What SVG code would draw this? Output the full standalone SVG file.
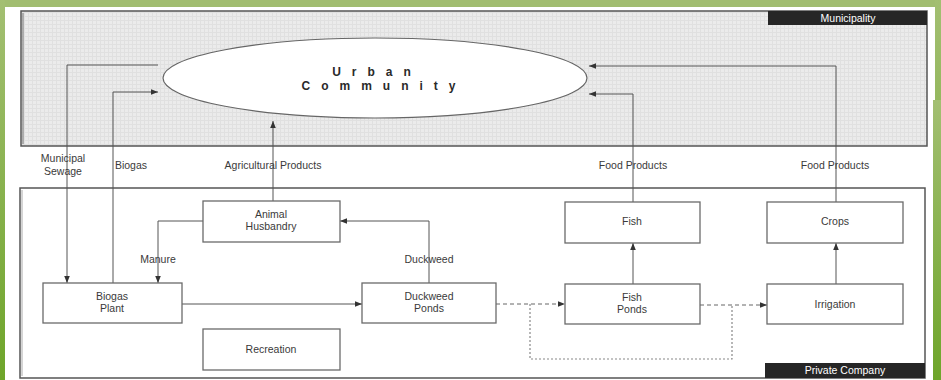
<svg xmlns="http://www.w3.org/2000/svg" width="941" height="380" viewBox="0 0 941 380">
<defs>
<linearGradient id="gl" x1="0" y1="0" x2="0" y2="1"><stop offset="0" stop-color="#a3bf72"/><stop offset="1" stop-color="#6ea52a"/></linearGradient>
<pattern id="hatch" width="4" height="4" patternUnits="userSpaceOnUse"><rect width="4" height="4" fill="#ebebeb"/><path d="M0 0.5H4M0.5 0V4" stroke="#e0e0e0" stroke-width="1"/></pattern>
<marker id="ah" viewBox="0 0 10 10" refX="10" refY="5" markerWidth="9" markerHeight="7" markerUnits="userSpaceOnUse" orient="auto"><path d="M0 1L10 5L0 9z" fill="#333"/></marker>
</defs>
<style>
.box{fill:#fff;stroke:#6a6a6a;stroke-width:1.3}
.t{font-family:"Liberation Sans",Arial,sans-serif;font-size:10.5px;fill:#3a3a3a;text-anchor:middle}
.big{font-family:"Liberation Sans",Arial,sans-serif;font-size:12px;font-weight:bold;fill:#2a2a2a;text-anchor:middle;letter-spacing:11px}
.ln{fill:none;stroke:#555;stroke-width:1}
.dash{fill:none;stroke:#666;stroke-width:1;stroke-dasharray:4 3}
.dot{fill:none;stroke:#888;stroke-width:1.2;stroke-dasharray:2 2}
.lab{font-family:"Liberation Sans",Arial,sans-serif;font-size:10.5px;fill:#fff;text-anchor:middle}
</style>
<rect width="941" height="380" fill="#fff"/>
<rect x="0" y="0" width="941" height="7" fill="#a1bd70"/>
<rect x="0" y="0" width="5" height="380" fill="url(#gl)"/>
<rect x="935" y="0" width="6" height="380" fill="url(#gl)"/>
<rect x="933" y="100" width="8" height="280" fill="url(#gl)"/>

<g id="municipality">
<rect x="21" y="11" width="906" height="135" fill="url(#hatch)" stroke="#555" stroke-width="1.5"/>
<line x1="23" y1="13" x2="23" y2="144" stroke="#999" stroke-width="1.5"/>
<rect x="768" y="11" width="159" height="14" fill="#262626"/>
<text class="lab" x="848" y="22">Municipality</text>
</g>

<g id="private-company">
<rect x="20" y="188" width="905" height="190" fill="#fff" stroke="#555" stroke-width="1.5"/>
<line x1="22" y1="190" x2="22" y2="376" stroke="#aaa" stroke-width="1"/>
<rect x="765" y="363" width="160" height="15" fill="#262626"/>
<text class="lab" x="845" y="374">Private Company</text>
</g>

<g id="urban-community">
<ellipse cx="375" cy="78" rx="212" ry="40" fill="#fff" stroke="#666" stroke-width="1.2"/>
<text class="big" x="377" y="76">Urban</text>
<text class="big" x="384" y="90">Community</text>
</g>

<g id="connectors">
<polyline class="ln" points="158,65 67,65 67,283" marker-end="url(#ah)"/>
<polyline class="ln" points="113,283 113,92 158,92" marker-end="url(#ah)"/>
<polyline class="ln" points="273,201 273,121" marker-end="url(#ah)"/>
<polyline class="ln" points="633,202 633,94 589,94" marker-end="url(#ah)"/>
<polyline class="ln" points="836,202 836,66 589,66" marker-end="url(#ah)"/>
<polyline class="ln" points="203,221 158,221 158,283" marker-end="url(#ah)"/>
<polyline class="ln" points="429,283 429,221 340,221" marker-end="url(#ah)"/>
<polyline class="ln" points="182,304 362,304" marker-end="url(#ah)"/>
<polyline class="dash" points="496,304 565,304" marker-end="url(#ah)"/>
<polyline class="dash" points="700,305 767,305" marker-end="url(#ah)"/>
<polyline class="dot" points="530,304 530,359 732,359 732,305"/>
<polyline class="ln" points="633,284 633,243" stroke-width="1.6" marker-end="url(#ah)"/>
<polyline class="ln" points="836,284 836,243" stroke-width="1.6" marker-end="url(#ah)"/>
</g>

<g id="labels">
<text class="t" x="63" y="162">Municipal</text>
<text class="t" x="63" y="175">Sewage</text>
<text class="t" x="131" y="169">Biogas</text>
<text class="t" x="273" y="169">Agricultural Products</text>
<text class="t" x="633" y="169">Food Products</text>
<text class="t" x="835" y="169">Food Products</text>
<text class="t" x="158" y="263">Manure</text>
<text class="t" x="429" y="263">Duckweed</text>
</g>

<g id="animal-husbandry"><rect class="box" x="203" y="201" width="137" height="41"/><text class="t" x="271" y="218">Animal</text><text class="t" x="271" y="230">Husbandry</text></g>
<g id="biogas-plant"><rect class="box" x="43" y="283" width="139" height="40"/><text class="t" x="112" y="300">Biogas</text><text class="t" x="112" y="312">Plant</text></g>
<g id="duckweed-ponds"><rect class="box" x="362" y="283" width="134" height="40"/><text class="t" x="429" y="300">Duckweed</text><text class="t" x="429" y="312">Ponds</text></g>
<g id="recreation"><rect class="box" x="203" y="329" width="137" height="41"/><text class="t" x="271" y="353">Recreation</text></g>
<g id="fish"><rect class="box" x="565" y="202" width="135" height="41"/><text class="t" x="632" y="225">Fish</text></g>
<g id="crops"><rect class="box" x="767" y="202" width="136" height="41"/><text class="t" x="835" y="225">Crops</text></g>
<g id="fish-ponds"><rect class="box" x="565" y="284" width="135" height="40"/><text class="t" x="632" y="301">Fish</text><text class="t" x="632" y="313">Ponds</text></g>
<g id="irrigation"><rect class="box" x="767" y="284" width="136" height="40"/><text class="t" x="835" y="308">Irrigation</text></g>
</svg>
